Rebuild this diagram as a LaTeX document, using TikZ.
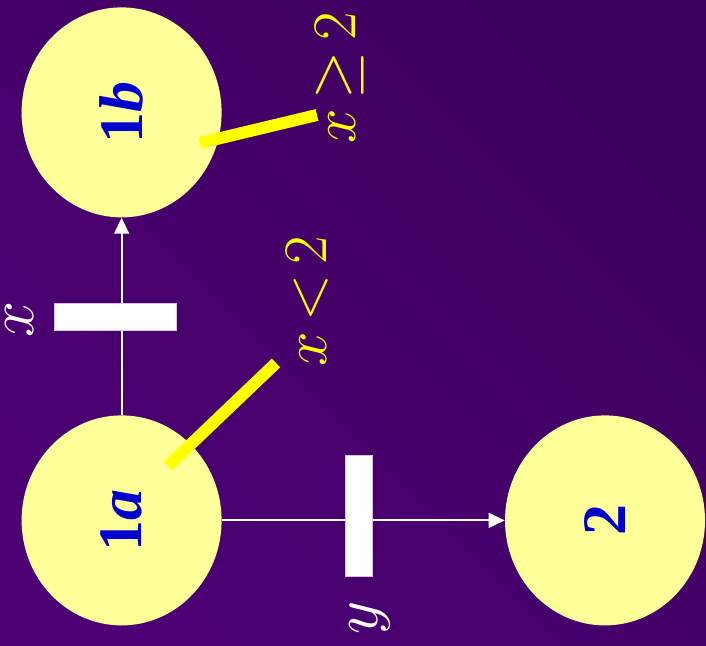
\RequirePackage{fix-cm}
\documentclass[tikz,border=0pt]{standalone}
\usepackage{fontspec}
\newfontfamily\timesfont{Liberation Serif}
\usetikzlibrary{shapes.geometric,arrows.meta}
\definecolor{bgdark}{HTML}{3E005E}
\definecolor{bglight}{HTML}{4C0074}
\definecolor{placefill}{HTML}{FFFF99}
\definecolor{labelblue}{HTML}{0000CC}
\definecolor{guardyellow}{HTML}{FFFF00}
\begin{document}
\begin{tikzpicture}[
  place/.style={ellipse,fill=placefill,inner sep=0pt,rotate=90,
    minimum width=5.25cm,minimum height=5cm,text=labelblue,
    font=\timesfont\fontsize{44}{48}\selectfont\bfseries},
  bar/.style={fill=white,draw=white!75!violet,line width=0.4pt,inner sep=0pt},
  arc/.style={white,line width=1.3pt,-{Triangle[length=0.4cm,width=0.37cm]}},
  guard/.style={guardyellow,line width=0.3cm},
  guardtext/.style={text=guardyellow,rotate=90,font=\fontsize{44}{48}\selectfont},
  arclabel/.style={text=white,rotate=90,inner sep=0pt,font=\fontsize{46}{50}\selectfont}]
% background
\shade[top color=bgdark,bottom color=bglight,shading angle=-45] (0,0) rectangle (17.65,16.15);
\useasboundingbox (0,0) rectangle (17.65,16.15);

% places
\node[place] (p1b) at (3.04,13.34) {1\textit{b}};
\node[place] (p1a) at (3.04,3.14) {1\textit{a}};
\node[place] (p2) at (15.125,3.14) {2};

% arcs
\draw[arc] (p1a) -- (p1b);
\draw[arc] (p1a) -- (p2);

% transitions
\node[bar,minimum width=3.05cm,minimum height=0.675cm] (tx) at (2.875,8.225) {};
\node[bar,minimum width=0.675cm,minimum height=3.025cm] (ty) at (8.975,3.25) {};
\node[arclabel] (lx) at (0.5,8.15) {$x$};
\node[arclabel] (ly) at (9.25,0.7) {$y$};

% guards
\coordinate (ga) at (4.2,4.5);
\coordinate (gb) at (5.0,12.575);
\node[guardtext] (g1) at (7.675,8.625) {$x\,{<}\,2$};
\node[guardtext] (g2) at (8.5,14.2) {$x\,{\geq}\,2$};
\draw[guard] (ga) -- (6.9,7.075);
\draw[guard] (gb) -- (7.925,13.275);
\end{tikzpicture}
\end{document}
